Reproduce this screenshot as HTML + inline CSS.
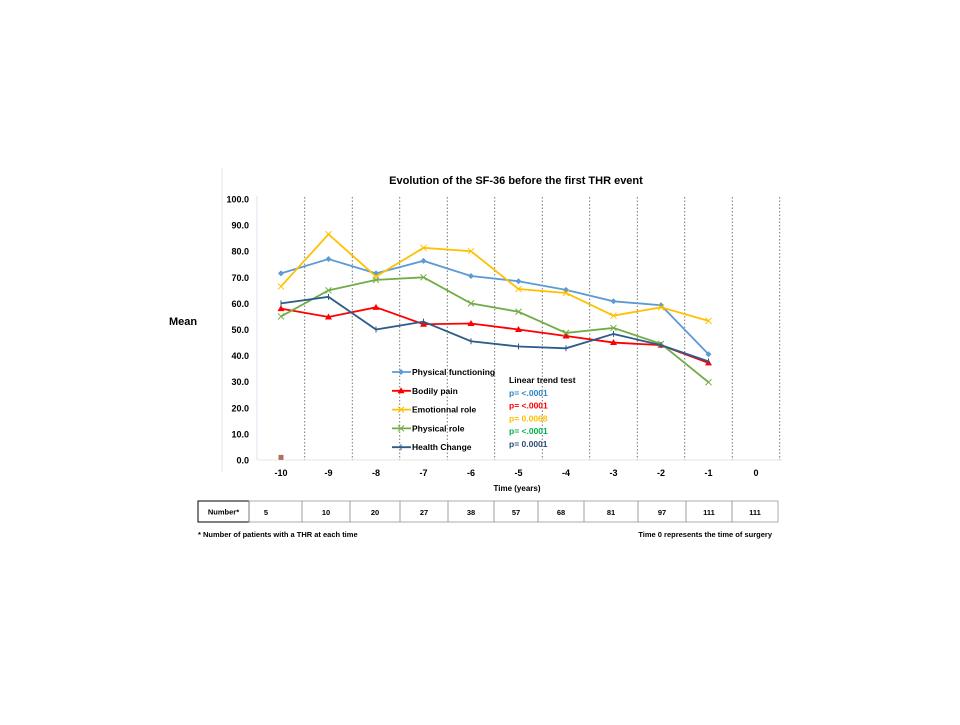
<!DOCTYPE html>
<html><head><meta charset="utf-8"><style>
body{margin:0;background:#fff;width:960px;height:720px;overflow:hidden;font-family:"Liberation Sans",sans-serif}
svg text{font-family:"Liberation Sans",sans-serif;font-weight:bold}
</style></head><body>
<svg id="c" width="960" height="720">
<line x1="222" y1="168" x2="222" y2="472" stroke="#e4e4e4"/>
<line x1="257" y1="196" x2="257" y2="460" stroke="#dde6f0"/>
<line x1="257" y1="460" x2="782" y2="460" stroke="#e6e6e6"/>
<text x="516" y="184" font-size="11" text-anchor="middle">Evolution of the SF-36 before the first THR event</text>
<text x="183" y="325" font-size="11" text-anchor="middle">Mean</text>
<text x="517" y="491" font-size="8" text-anchor="middle">Time (years)</text>
<g id="grid"></g><g id="ticks"></g><g id="series"></g>
<g id="legend"></g>
<g id="trend"></g>
<g id="table"></g>
<text x="198" y="537" font-size="7.5">* Number of patients with a THR at each time</text>
<text x="772" y="537" font-size="7.5" text-anchor="end">Time 0 represents the time of surgery</text>
</svg>
<script>
const years=[-10,-9,-8,-7,-6,-5,-4,-3,-2,-1,0];
const yTicks=[0,10,20,30,40,50,60,70,80,90,100];
const physFunc=[71.5,77,71.5,76.3,70.5,68.5,65.2,60.8,59.3,40.5];
const bodilyPain=[58,54.8,58.5,52,52.3,50,47.5,45,44,37.2];
const emotRole=[66.5,86.5,70.3,81.3,80,65.5,64,55.3,58.5,53.3];
const physRole=[55,65,69,70,60,56.8,48.7,50.6,44.5,29.8];
const healthChange=[60,62.5,50,53,45.5,43.5,42.8,48.3,44,37.8];
const seriesNames=["Physical functioning","Bodily pain","Emotionnal role","Physical role","Health Change"];
const seriesColors=["#5b9bd5","#ff0000","#ffc000","#70ad47","#2e5c8a"];
const pValues=["p= <.0001","p= <.0001","p= 0.0068","p= <.0001","p= 0.0001"];
const pColors=["#2e86c1","#ff0000","#ffc000","#00b050","#2e4a7a"];
const counts=[5,10,20,27,38,57,68,81,97,111,111];
const NS="http://www.w3.org/2000/svg";
const X=v=>281+(v+10)*47.5, Y=v=>460-2.61*v;
function mk(p,t,a){const e=document.createElementNS(NS,t);for(const k in a)e.setAttribute(k,a[k]);p.appendChild(e);return e;}
const grid=document.getElementById('grid'),ticks=document.getElementById('ticks'),ser=document.getElementById('series');
years.forEach(v=>{const l=mk(grid,'line',{x1:X(v)+23.75,x2:X(v)+23.75,y1:197,y2:460,stroke:'#555','stroke-dasharray':'1.5,2','stroke-width':0.8});


const t=mk(ticks,'text',{x:X(v),y:476,'font-size':9,'text-anchor':'middle'});t.textContent=v;

});
yTicks.forEach(v=>{const t=mk(ticks,'text',{x:249,y:Y(v)+3.5,'font-size':9,'text-anchor':'end'});t.textContent=v.toFixed(1);

});
function marker(g,x,y,i,c){
 if(i===0){mk(g,'path',{d:`M${x} ${y-3}L${x+3} ${y}L${x} ${y+3}L${x-3} ${y}Z`,fill:c});}
 else if(i===1){mk(g,'path',{d:`M${x} ${y-3.5}L${x+3.5} ${y+2.5}L${x-3.5} ${y+2.5}Z`,fill:c});}
 else if(i===4){mk(g,'line',{x1:x,x2:x,y1:y-3,y2:y+3,stroke:c,'stroke-width':1});}
 else {mk(g,'path',{d:`M${x-3} ${y-3}L${x+3} ${y+3}M${x-3} ${y+3}L${x+3} ${y-3}`,stroke:c,'stroke-width':1});}
}
[physFunc,bodilyPain,emotRole,physRole,healthChange].forEach((arr,i)=>{
 const g=mk(ser,'g',{});
 
 
 mk(g,'polyline',{points:arr.map((v,j)=>X(years[j])+','+Y(v)).join(' '),fill:'none',stroke:seriesColors[i],'stroke-width':1.8});
 arr.forEach((v,j)=>marker(g,X(years[j]),Y(v),i,seriesColors[i]));
});
const sq=mk(ser,'rect',{x:X(-10)-2.5,y:Y(1)-2.5,width:5,height:5,fill:'#b07060'});


const leg=document.getElementById('legend');
seriesNames.forEach((n,i)=>{const y=372+i*18.8;const g=mk(leg,'g',{});


mk(g,'line',{x1:392,x2:411,y1:y,y2:y,stroke:seriesColors[i],'stroke-width':1.8});marker(g,401,y,i,seriesColors[i]);
const t=mk(g,'text',{x:412,y:y+3,'font-size':8.5});t.textContent=n;});
const tr=document.getElementById('trend');
const th=mk(tr,'text',{x:509,y:383,'font-size':8.5});th.textContent="Linear trend test";


pValues.forEach((p,i)=>{const t=mk(tr,'text',{x:509,y:396+i*12.7,'font-size':8.5,fill:pColors[i]});t.textContent=p;

});
const tb=document.getElementById('table');
const edges=[198,249,302,350,400,448,494,538,584,638,686,732,778];
const hdr=mk(tb,'rect',{x:198,y:501,width:51,height:21,fill:'none',stroke:'#000','stroke-width':1});


const ht=mk(tb,'text',{x:223.5,y:514.5,'font-size':7.5,'text-anchor':'middle'});ht.textContent="Number*";
counts.forEach((c,i)=>{const x0=edges[i+1],x1=edges[i+2];
const r=mk(tb,'rect',{x:x0,y:501,width:x1-x0,height:21,fill:'none',stroke:'#999','stroke-width':0.8});


const t=mk(tb,'text',{x:i===0?266:(x0+x1)/2,y:515,'font-size':7.5,'text-anchor':'middle'});t.textContent=c;});
</script>
</body></html>
